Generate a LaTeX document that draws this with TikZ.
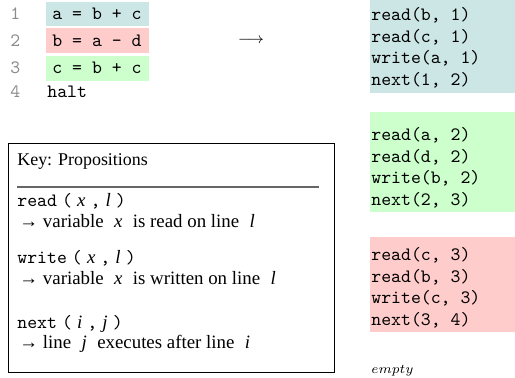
\documentclass[tikz,border=0pt]{standalone}
\usepackage{fontspec}
\newfontfamily\keyfont{Liberation Serif}
\definecolor{cblue}{RGB}{204,229,229}
\definecolor{cred}{RGB}{255,204,204}
\definecolor{cgreen}{RGB}{204,255,204}
\definecolor{numgray}{RGB}{140,140,140}
\tikzset{
  codetxt/.style={font=\ttfamily, anchor=west, inner sep=0pt},
  numtxt/.style={font=\ttfamily, text=numgray, anchor=west, inner sep=0pt},
  keytxt/.style={font=\keyfont, anchor=west, inner sep=0pt},
  keycode/.style={font=\keyfont, anchor=west, inner sep=0pt},
}
\newcommand{\kc}[1]{\texttt{#1}}
\newcommand{\gp}{\hspace{5.5pt}}
\newcommand{\kg}{\hspace{2.7pt}}
\begin{document}
\begin{tikzpicture}[x=0.53pt,y=-0.53pt]
\useasboundingbox (0,0) rectangle (515,378);
% left program
\fill[cblue]  (46,2)  rectangle (149,26);
\fill[cred]   (46,28) rectangle (149,53);
\fill[cgreen] (46,56) rectangle (149,81);
\node[numtxt] (n1) at (10,14) {1};
\node[numtxt] (n2) at (10,41) {2};
\node[numtxt] (n3) at (10,68) {3};
\node[numtxt] (n4) at (10,92) {4};
\node[codetxt] (l1) at (52,14) {a = b + c};
\node[codetxt] (l2) at (52,41) {b = a - d};
\node[codetxt] (l3) at (52,68) {c = b + c};
\node[codetxt] (l4) at (47,92) {halt};
% arrow
\node[inner sep=0pt, font=\fontsize{8}{10}\selectfont] (arr) at (251,41) {$\longrightarrow$};
% right boxes
\fill[cblue]  (370,-10) rectangle (515,93);
\fill[cgreen] (370,112) rectangle (515,212);
\fill[cred]   (370,237) rectangle (515,332);
\node[codetxt] (r11) at (371,15) {read(b, 1)};
\node[codetxt] (r12) at (371,37) {read(c, 1)};
\node[codetxt] (r13) at (371,58) {write(a, 1)};
\node[codetxt] (r14) at (371,80) {next(1, 2)};
\node[codetxt] (r21) at (371,135) {read(a, 2)};
\node[codetxt] (r22) at (371,157) {read(d, 2)};
\node[codetxt] (r23) at (371,178) {write(b, 2)};
\node[codetxt] (r24) at (371,200) {next(2, 3)};
\node[codetxt] (r31) at (371,255) {read(c, 3)};
\node[codetxt] (r32) at (371,277) {read(b, 3)};
\node[codetxt] (r33) at (371,298) {write(c, 3)};
\node[codetxt] (r34) at (371,320) {next(3, 4)};
\node[anchor=west, inner sep=0pt, font=\fontsize{7.4}{9}\selectfont] (emp) at (371,371) {$empty$};
% key
\draw[line width=0.5pt] (8,143) rectangle (334,372);
\draw[line width=0.8pt, black!60] (17,187) -- (319,187);
\node[keytxt, font=\keyfont\fontsize{9.5}{11}\selectfont] (kt) at (17,162) {Key: Propositions};
\node[keycode] (k1) at (17,201) {\kc{read\kg(}\kg\textit{x}\kg\kc{,}\kg\textit{l}\kg\kc{)}};
\node[keytxt] (d1) at (19,221) {→ variable\gp\textit{x}\gp is read on line\gp\textit{l}};
\node[keycode] (k2) at (17,258) {\kc{write\kg(}\kg\textit{x}\kg\kc{,}\kg\textit{l}\kg\kc{)}};
\node[keytxt] (d2) at (19,278) {→ variable\gp\textit{x}\gp is written on line\gp\textit{l}};
\node[keycode] (k3) at (17,324) {\kc{next\kg(}\kg\textit{i}\kg\kc{,}\kg\textit{j}\kg\kc{)}};
\node[keytxt] (d3) at (19,344) {→ line\gp\textit{j}\gp executes after line\gp\textit{i}};
\end{tikzpicture}
\end{document}
